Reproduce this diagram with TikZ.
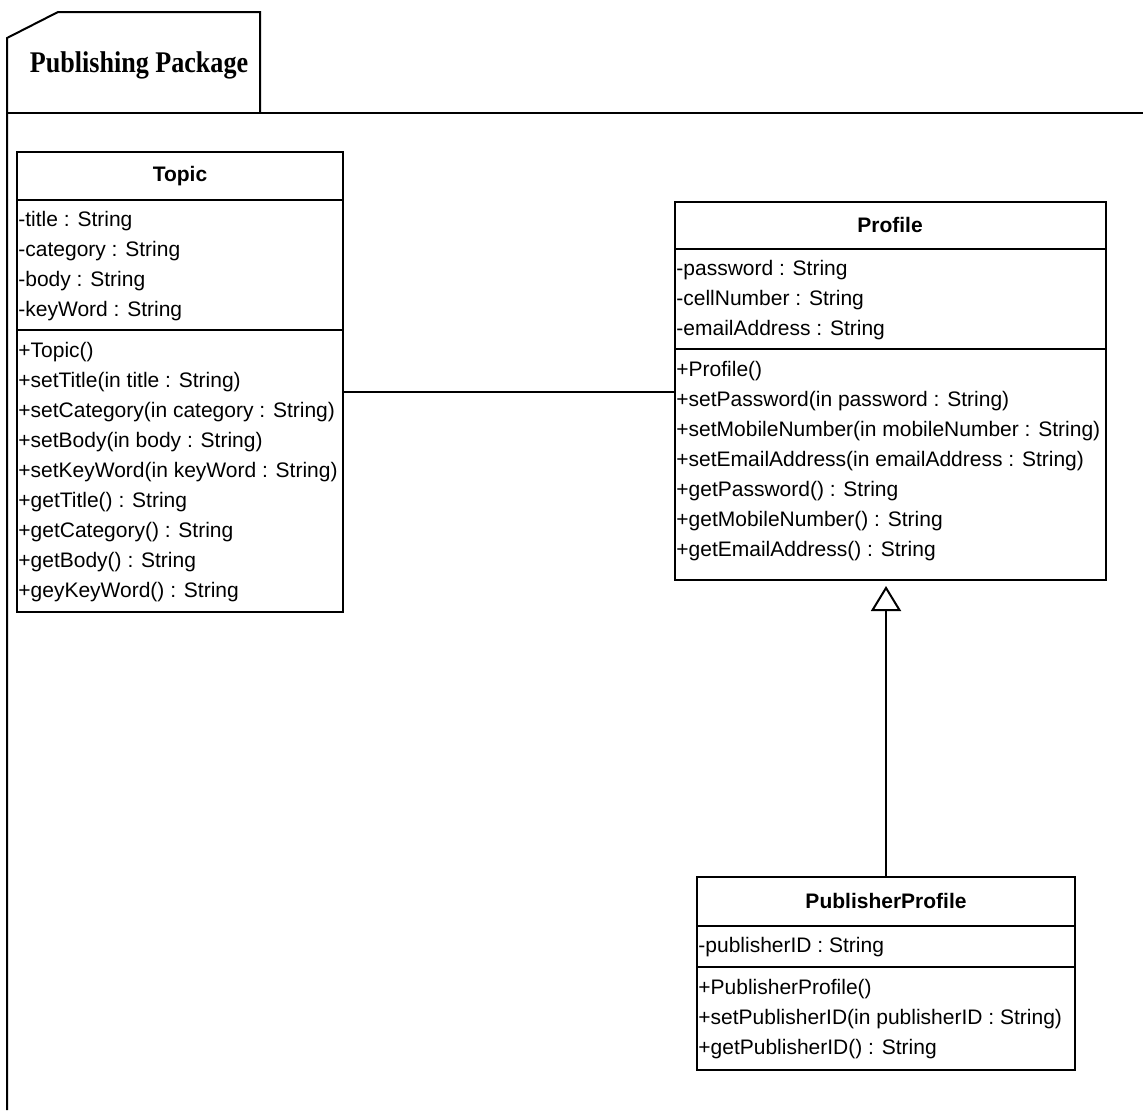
\documentclass[tikz,border=0pt]{standalone}
\usepackage{fontspec}
\usepackage{graphicx}
\setmainfont{Liberation Sans}
\newfontfamily\titlefont{Liberation Serif}
\usetikzlibrary{arrows.meta}

\begin{document}
\begin{tikzpicture}[x=0.5pt, y=-0.5pt,
  frameline/.style={line width=1pt, line join=miter},
  classbox/.style={draw, line width=1.1pt, anchor=north west, inner sep=0pt, outer sep=0pt},
  sepline/.style={line width=1.1pt},
  member/.style={anchor=base west, inner sep=0pt, font=\fontsize{10.5}{15}\selectfont},
  classname/.style={inner sep=0pt, font=\fontsize{10.5}{15}\selectfont\bfseries},
  assocline/.style={line width=1pt},
  genline/.style={line width=1pt, -{Triangle[open, length=12.5pt, width=15pt, line width=1pt]}}
]
\useasboundingbox (0,0) rectangle (1143,1110);

% package frame with its name tab
\draw[frameline] (7,1110) -- (7,38) -- (58,12) -- (260,12) -- (260,113);
\draw[frameline] (7,113) -- (1143,113);
\node[inner sep=0pt] (pkgname) at (139,65)
  {\titlefont\bfseries\fontsize{15}{15}\selectfont\scalebox{0.87}[1]{Publishing Package}};

% ---------- Topic ----------
\node[classbox, minimum width=163pt, minimum height=230pt] (topic) at (17,152) {};
\node[classname] (topicname) at (180,176) {Topic};
\draw[sepline] (17,200) -- (343,200);
\draw[sepline] (17,330) -- (343,330);
\foreach \t [count=\i from 0] in {-title : String, -category : String, -body : String, -keyWord : String}
  \node[member] (topicattr\i) at (18,226+30*\i) {\t};
\foreach \t [count=\i from 0] in {+Topic(), +setTitle(in title : String), +setCategory(in category : String),
    +setBody(in body : String), +setKeyWord(in keyWord : String), +getTitle() : String,
    +getCategory() : String, +getBody() : String, +geyKeyWord() : String}
  \node[member] (topicop\i) at (18,357+30*\i) {\t};

% ---------- Profile ----------
\node[classbox, minimum width=215.5pt, minimum height=189pt] (profile) at (675,202) {};
\node[classname] (profilename) at (890,225) {Profile};
\draw[sepline] (675,249) -- (1106,249);
\draw[sepline] (675,349) -- (1106,349);
\foreach \t [count=\i from 0] in {-password : String, -cellNumber : String, -emailAddress : String}
  \node[member] (profileattr\i) at (676,275+30*\i) {\t};
\foreach \t [count=\i from 0] in {+Profile(), +setPassword(in password : String),
    +setMobileNumber(in mobileNumber : String), +setEmailAddress(in emailAddress : String),
    +getPassword() : String, +getMobileNumber() : String, +getEmailAddress() : String}
  \node[member] (profileop\i) at (676,376+30*\i) {\t};

% ---------- PublisherProfile ----------
\node[classbox, minimum width=189pt, minimum height=96.5pt] (pubprofile) at (697,877) {};
\node[classname] (pubprofilename) at (886,901) {PublisherProfile};
\draw[sepline] (697,926) -- (1075,926);
\draw[sepline] (697,967) -- (1075,967);
\node[member] (pubprofileattr0) at (698,952) {-publisherID : String};
\foreach \t [count=\i from 0] in {+PublisherProfile(), +setPublisherID(in publisherID : String),
    +getPublisherID() : String}
  \node[member] (pubprofileop\i) at (698,994+30*\i) {\t};

% ---------- relationships ----------
\coordinate (assoc) at (0,392);
\draw[assocline] (topic.east |- assoc) -- (profile.west |- assoc);
\draw[genline] (pubprofile.north) -- ([yshift=-3pt]pubprofile.north |- profile.south);
\end{tikzpicture}
\end{document}
